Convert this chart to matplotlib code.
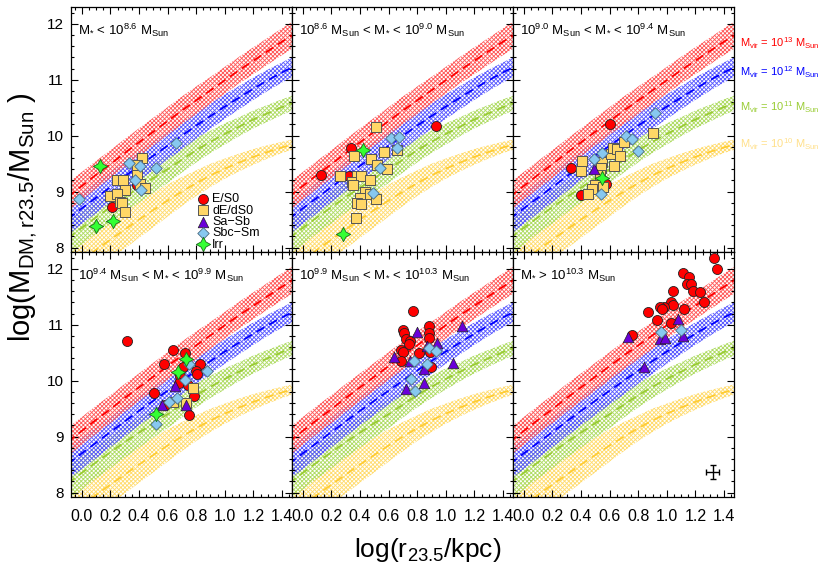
import numpy as np
import matplotlib
matplotlib.use('Agg')
import matplotlib.pyplot as plt
from matplotlib.ticker import MultipleLocator, FormatStrFormatter

plt.rcParams['font.family'] = ['Liberation Sans', 'DejaVu Sans']
plt.rcParams['mathtext.default'] = 'regular'
plt.rcParams['hatch.linewidth'] = 0.65

# ---------------- model curves ----------------
r_grid = [-0.1, 0.0, 0.1, 0.2, 0.3, 0.4, 0.5, 0.6, 0.7, 0.8, 0.9, 1.0, 1.1, 1.2, 1.3, 1.4, 1.5]
red_mid = [8.90, 9.10, 9.30, 9.49, 9.69, 9.88, 10.07, 10.26, 10.45, 10.63, 10.81, 10.99, 11.17, 11.34, 11.51, 11.68, 11.84]
blue_mid = [8.50, 8.70, 8.89, 9.08, 9.27, 9.46, 9.64, 9.82, 10.00, 10.18, 10.35, 10.52, 10.68, 10.84, 10.99, 11.13, 11.26]
green_mid = [8.16, 8.35, 8.54, 8.72, 8.90, 9.07, 9.24, 9.40, 9.57, 9.74, 9.89, 10.03, 10.16, 10.29, 10.40, 10.51, 10.61]
yellow_mid = [7.58, 7.77, 7.96, 8.14, 8.32, 8.50, 8.67, 8.84, 9.00, 9.15, 9.29, 9.41, 9.52, 9.62, 9.71, 9.79, 9.86]
red_hw = [0.25, 0.25, 0.25, 0.25, 0.25, 0.25, 0.25, 0.25, 0.25, 0.25, 0.24, 0.24, 0.24, 0.24, 0.24, 0.24, 0.24]
blue_hw = [0.28, 0.28, 0.28, 0.27, 0.27, 0.26, 0.26, 0.25, 0.25, 0.24, 0.23, 0.22, 0.21, 0.20, 0.19, 0.18, 0.18]
green_hw = [0.30, 0.30, 0.29, 0.29, 0.28, 0.27, 0.26, 0.25, 0.23, 0.22, 0.20, 0.19, 0.17, 0.16, 0.15, 0.14, 0.13]
yellow_hw = [0.36, 0.36, 0.35, 0.35, 0.34, 0.33, 0.31, 0.29, 0.26, 0.23, 0.21, 0.18, 0.16, 0.14, 0.12, 0.10, 0.09]
mvir_exp = ['13', '12', '11', '10']
mvir_label_y = [11.66, 11.14, 10.50, 9.84]

# ---------------- galaxies, one inner list per panel ----------------
es0_x = [[0.21, 0.385],
         [0.128, 0.338, 0.326, 0.93],
         [0.60, 0.33, 0.40, 0.575],
         [0.315, 0.64, 0.72, 0.575, 0.705, 0.83, 0.80, 0.805, 0.69, 0.68, 0.745, 0.505, 0.785, 0.58, 0.75],
         [0.77, 0.70, 0.71, 0.88, 0.88, 0.88, 0.72, 0.75, 0.74, 0.69, 0.70, 0.81, 0.69, 0.89, 0.895],
         [1.33, 1.354, 1.116, 1.156, 1.14, 1.17, 1.186, 1.23, 1.04, 1.26, 1.03, 1.04, 0.98, 0.95, 0.965,
          0.865, 1.12, 0.93, 1.03, 0.76]]
es0_y = [[8.73, 9.11],
         [9.29, 9.78, 9.27, 10.17],
         [10.21, 9.42, 8.93, 9.14],
         [10.70, 10.54, 10.49, 10.29, 10.24, 10.29, 10.17, 10.12, 10.09, 9.96, 9.93, 9.78, 9.73, 9.57, 9.39],
         [11.25, 10.91, 10.85, 10.97, 10.85, 10.76, 10.74, 10.70, 10.66, 10.55, 10.52, 10.50, 10.36, 10.52, 10.25],
         [12.20, 11.99, 11.92, 11.86, 11.73, 11.73, 11.61, 11.58, 11.61, 11.40, 11.40, 11.35, 11.32, 11.31, 11.28,
          11.22, 11.28, 11.09, 11.03, 10.82]]

de_x = [[0.42, 0.384, 0.245, 0.29, 0.384, 0.41, 0.44, 0.30, 0.20, 0.245, 0.27, 0.28, 0.30],
        [0.51, 0.36, 0.26, 0.38, 0.347, 0.405, 0.354, 0.47, 0.475, 0.57, 0.52, 0.587, 0.66, 0.436,
         0.40, 0.38, 0.41, 0.47, 0.51, 0.37],
        [0.41, 0.40, 0.545, 0.54, 0.53, 0.63, 0.61, 0.625, 0.655, 0.67, 0.70, 0.90, 0.50, 0.475, 0.45, 0.557],
        [0.78, 0.64, 0.73],
        [],
        []]
de_y = [[9.60, 9.48, 9.21, 9.21, 9.29, 9.14, 9.07, 9.02, 8.92, 8.96, 8.82, 8.79, 8.63],
        [10.16, 9.64, 9.27, 9.27, 9.18, 9.27, 9.11, 9.21, 9.59, 9.71, 9.48, 9.41, 9.75, 8.99,
         8.89, 8.79, 8.77, 8.96, 8.86, 8.53],
        [9.55, 9.36, 9.53, 9.42, 9.29, 9.45, 9.68, 9.78, 9.76, 9.64, 9.88, 10.04, 9.12, 9.05, 8.95, 9.09],
        [9.87, 9.61, 9.60],
        [],
        []]

sa_x = [[], [], [0.49],
        [0.65, 0.56, 0.73],
        [0.80, 1.11, 0.64, 0.75, 0.87, 0.94, 0.85, 1.05, 0.845, 0.72],
        [0.73, 1.08, 0.95, 0.99, 1.11, 0.84]]
sa_y = [[], [], [9.41],
        [9.91, 9.57, 9.57],
        [10.87, 10.98, 10.42, 10.36, 10.62, 10.67, 10.21, 10.32, 9.96, 9.85],
        [10.78, 11.10, 10.74, 10.76, 10.79, 10.25]]

sbc_x = [[-0.02, 0.33, 0.41, 0.52, 0.66, 0.37, 0.415],
         [0.62, 0.67, 0.66, 0.54, 0.49],
         [0.49, 0.55, 0.715, 0.755, 0.80, 0.92, 0.54],
         [0.75, 0.875, 0.72, 0.665, 0.61, 0.52],
         [0.88, 0.93, 0.78, 0.87, 0.76, 0.785],
         [0.96, 1.10]]
sbc_y = [[8.87, 9.51, 9.45, 9.43, 9.86, 9.20, 9.02],
         [9.96, 9.97, 9.78, 9.43, 8.98],
         [9.58, 9.69, 10.00, 9.94, 9.72, 10.41, 8.96],
         [10.30, 10.18, 10.01, 9.69, 9.61, 9.23],
         [10.58, 10.53, 10.35, 10.29, 10.03, 9.82],
         [10.87, 10.91]]

irr_x = [[0.128, 0.10, 0.22], [0.42, 0.28], [0.55], [0.73, 0.675, 0.52], [], []]
irr_y = [[9.46, 8.38, 8.48], [9.75, 8.25], [9.24], [10.38, 10.16, 9.41], [], []]

# typical error bar (bottom-right panel)
err_x = [1.32]
err_y = [8.37]
err_dx = [0.047]
err_dy = [0.13]

titles = [r'M$_{*}$ < 10$^{8.6}$ M$_{Sun}$',
          r'10$^{8.6}$ M$_{Sun}$ < M$_{*}$ < 10$^{9.0}$ M$_{Sun}$',
          r'10$^{9.0}$ M$_{Sun}$ < M$_{*}$ < 10$^{9.4}$ M$_{Sun}$',
          r'10$^{9.4}$ M$_{Sun}$ < M$_{*}$ < 10$^{9.9}$ M$_{Sun}$',
          r'10$^{9.9}$ M$_{Sun}$ < M$_{*}$ < 10$^{10.3}$ M$_{Sun}$',
          r'M$_{*}$ > 10$^{10.3}$ M$_{Sun}$']
type_labels = ['E/S0', 'dE/dS0', 'Sa\u2212Sb', 'Sbc\u2212Sm', 'Irr']

# ---------------- styling ----------------
mids = [yellow_mid, green_mid, blue_mid, red_mid]
hws = [yellow_hw, green_hw, blue_hw, red_hw]
hatch_cols = ['#ffdc70', '#b0dc66', '#5c5cff', '#ff5c5c']
line_cols = ['#ffcc33', '#99cc33', '#0000ff', '#ff0000']
label_cols = ['#ff0000', '#0000ff', '#99cc33', '#ffe08a']

fig, axes = plt.subplots(2, 3, figsize=(8.22, 5.64), dpi=100, sharex=True, sharey=True)
fig.subplots_adjust(left=0.0864, right=0.893, top=0.9876, bottom=0.1188, wspace=0, hspace=0)
axes = axes.ravel()

rg = np.array(r_grid)
for i, ax in enumerate(axes):
    for mid, hw, hc, lc in zip(mids, hws, hatch_cols, line_cols):
        m = np.array(mid)
        h = np.array(hw)
        ax.fill_between(rg, m - h, m + h, facecolor='none', edgecolor=hc,
                        hatch='xxxxxxxx', linewidth=0, zorder=1)
        ax.plot(rg, m, ls=(0, (5, 3)), color=lc, lw=1.3, zorder=2)

    h1 = ax.scatter(es0_x[i], es0_y[i], s=52, marker='o', c='#ff0000', edgecolors='#222222', linewidths=0.6, zorder=4)
    h2 = ax.scatter(de_x[i], de_y[i], s=60, marker='s', c='#ffd766', edgecolors='#555555', linewidths=0.7, zorder=5)
    h3 = ax.scatter(sa_x[i], sa_y[i], s=58, marker='^', c='#6a00d8', edgecolors='#222222', linewidths=0.5, zorder=6)
    h4 = ax.scatter(sbc_x[i], sbc_y[i], s=34, marker='D', c='#87c8f0', edgecolors='#4a6a80', linewidths=0.6, zorder=7)
    h5 = ax.scatter(irr_x[i], irr_y[i], s=105, marker=(4, 1, 0), c='#33ff33', edgecolors='#1a6a1a', linewidths=0.6, zorder=8)

    if i == 0:
        ax.legend([h1, h2, h3, h4, h5], type_labels, loc='lower left', bbox_to_anchor=(0.565, 0.0),
                  frameon=False, fontsize=9, handletextpad=0.2, labelspacing=-0.05,
                  borderpad=0.1, handlelength=1.0, scatterpoints=1, borderaxespad=0)

    ax.text(0.032, 0.885, titles[i], transform=ax.transAxes, fontsize=9.5, ha='left', va='baseline', zorder=10)

    ax.set_xlim(-0.075, 1.47)
    ax.set_ylim(7.92, 12.3)
    ax.xaxis.set_major_locator(MultipleLocator(0.2))
    ax.xaxis.set_minor_locator(MultipleLocator(0.05))
    ax.yaxis.set_major_locator(MultipleLocator(1))
    ax.yaxis.set_minor_locator(MultipleLocator(0.2))
    ax.xaxis.set_major_formatter(FormatStrFormatter('%.1f'))
    ax.yaxis.set_major_formatter(FormatStrFormatter('%d'))
    ax.tick_params(which='both', direction='in', top=True, right=True, width=0.8)
    ax.tick_params(which='major', length=5)
    ax.tick_params(which='minor', length=2.5)
    ax.tick_params(axis='x', labelsize=11.5, pad=9)
    ax.tick_params(axis='y', labelsize=11, pad=5)
    for sp in ax.spines.values():
        sp.set_linewidth(0.9)

axes[5].errorbar(err_x, err_y, xerr=err_dx, yerr=err_dy, fmt='none', ecolor='black',
                 elinewidth=1.0, capsize=2, capthick=1.0, zorder=9)

ax3 = axes[2]
for exp, yv, col in zip(mvir_exp, mvir_label_y, label_cols):
    ax3.text(1.027, yv, r'M$_{vir}$ = 10$^{' + exp + r'}$ M$_{Sun}$', color=col, fontsize=8,
             transform=ax3.get_yaxis_transform(), ha='left', va='center', clip_on=False)

fig.text(0.027, 0.615, r'log(M$_{DM,r23.5}$/M$_{Sun}$ )', rotation=90, fontsize=21, ha='center', va='center')
fig.text(0.52, 0.025, r'log(r$_{23.5}$/kpc)', fontsize=19, ha='center', va='center')

fig.savefig('out.png', dpi=100)
